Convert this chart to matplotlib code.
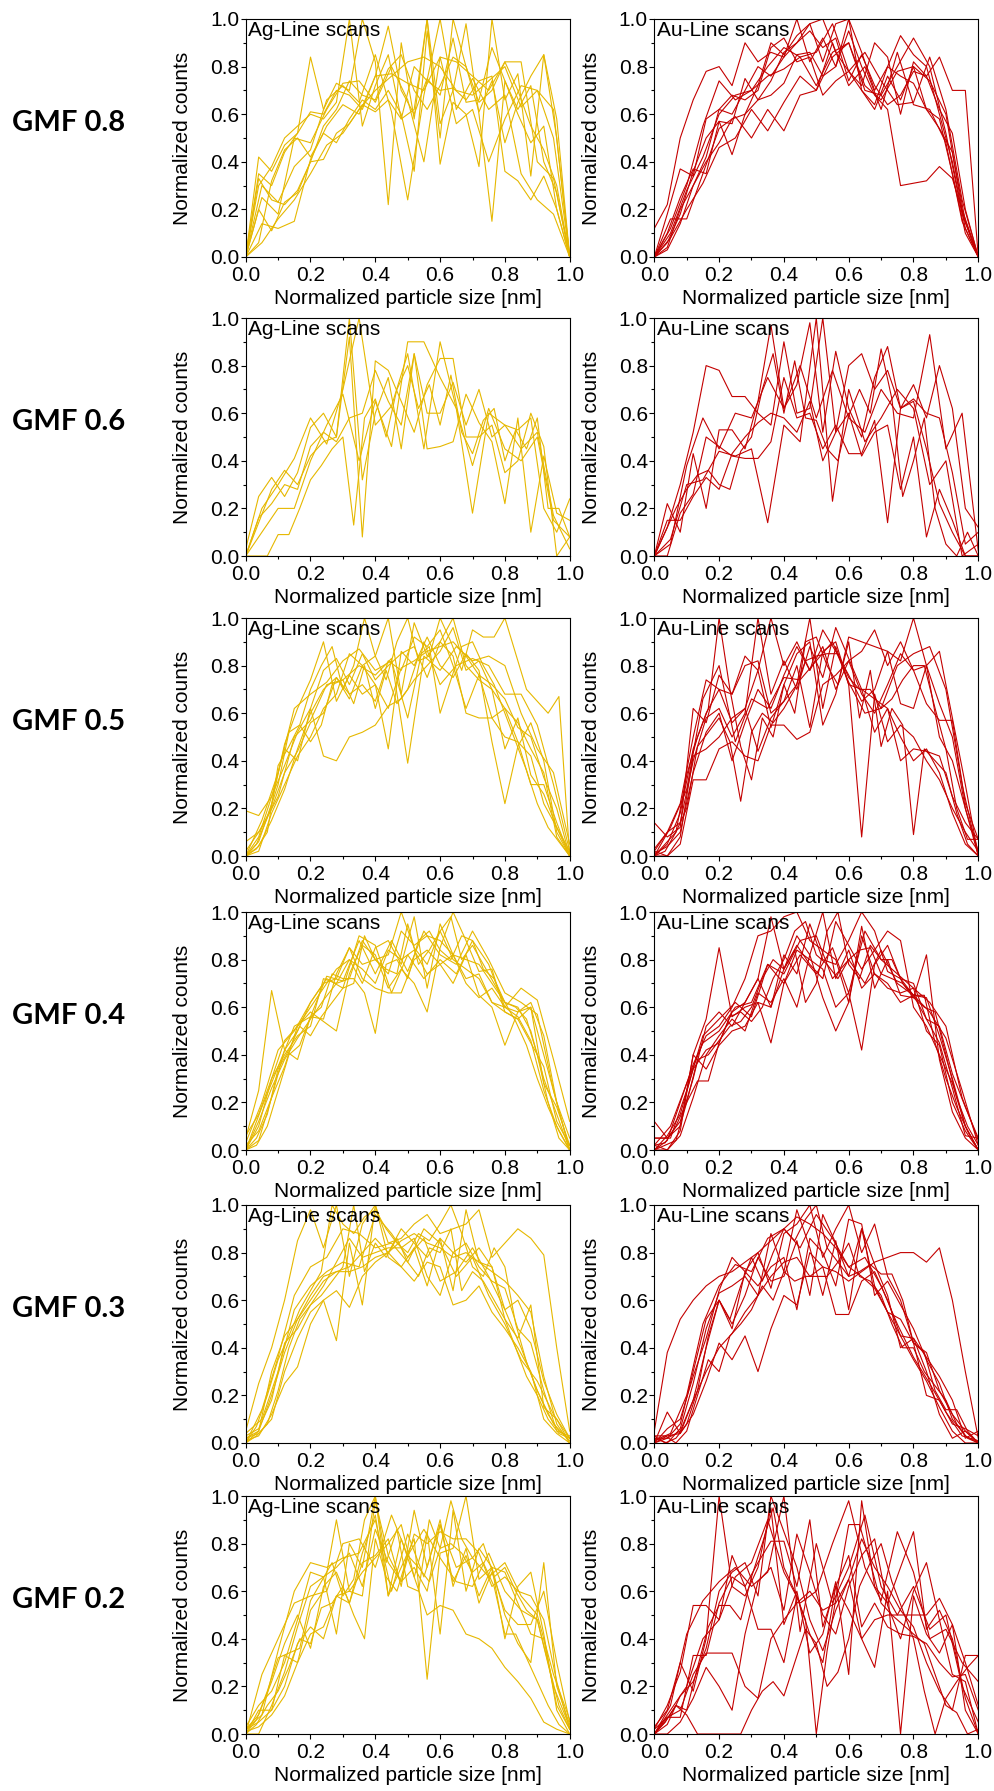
import numpy as np
import matplotlib
matplotlib.use("Agg")
import matplotlib.pyplot as plt
from matplotlib.ticker import MultipleLocator, FormatStrFormatter

plt.rcParams['font.family'] = ['Liberation Sans', 'DejaVu Sans']

# GMF values, one row each
gmf_labels = ["GMF 0.8", "GMF 0.6", "GMF 0.5", "GMF 0.4", "GMF 0.3", "GMF 0.2"]

# Normalized line scans (y values, evenly spaced over 0..1)
ag_08 = [
    [0, 0.33, 0.24, 0.22, 0.28, 0.40, 0.55, 0.62, 0.74, 0.68, 0.66, 0.79, 0.85, 0.70, 0.62, 0.72, 0.84, 0.80, 0.65, 0.70, 0.82, 0.70, 0.55, 0.45, 0.30, 0],
    [0, 0.42, 0.36, 0.47, 0.52, 0.84, 0.62, 0.73, 0.70, 1.00, 0.82, 0.22, 0.90, 0.58, 1.00, 0.56, 0.70, 0.98, 0.60, 0.15, 0.74, 0.60, 0.48, 0.55, 0.20, 0],
    [0, 0.14, 0.12, 0.15, 0.41, 0.55, 0.64, 0.60, 0.76, 0.77, 0.73, 0.70, 0.84, 0.82, 0.76, 0.70, 0.82, 0.82, 0.40, 0.33, 0],
    [0, 0.30, 0.23, 0.38, 0.45, 0.66, 0.72, 0.65, 0.85, 0.61, 0.24, 0.68, 1.00, 0.62, 0.75, 0.62, 0.68, 0.35, 0.24, 0.18, 0],
    [0, 0.06, 0.32, 0.45, 0.50, 0.42, 0.52, 0.48, 0.58, 0.66, 0.62, 0.70, 0.60, 0.36, 0.95, 0.50, 1.00, 0.80, 0.61, 0.74, 0.48, 0.65, 0.76, 0.85, 0.50, 0],
    [0, 0.20, 0.11, 0.23, 0.27, 0.40, 0.41, 0.52, 0.56, 0.64, 0.61, 0.66, 0.58, 0.80, 0.74, 0.70, 0.71, 0.66, 0.74, 0.76, 0.36, 0.32, 0.24, 0.34, 0.20, 0],
    [0, 0.25, 0.18, 0.50, 0.48, 0.62, 0.73, 0.74, 0.65, 0.80, 0.66, 0.40, 0.84, 0.56, 0.62, 0.40, 0.58, 0.72, 0.70, 0.62, 0],
    [0, 0.30, 0.38, 0.50, 0.55, 0.60, 0.58, 0.65, 1.00, 0.55, 0.72, 0.85, 0.58, 0.62, 1.00, 0.39, 0.65, 0.60, 0.38, 1.00, 0.66, 0.77, 0.34, 0.85, 0.58, 0],
    [0, 0.06, 0.16, 0.24, 0.35, 0.47, 0.52, 0.62, 0.70, 0.76, 0.82, 0.84, 0.80, 0.70, 0.68, 0.74, 0.80, 0.63, 0.70, 0.50, 0],
    [0, 0.35, 0.30, 0.44, 0.52, 0.61, 0.60, 0.70, 0.68, 0.62, 0.76, 0.97, 0.70, 0.60, 0.75, 0.68, 0.92, 0.65, 0.66, 0.88, 0.74, 0.62, 0.72, 0.40, 0.27, 0],
]
au_08 = [
    [0.12, 0.22, 0.50, 0.66, 0.78, 0.80, 0.72, 0.90, 0.82, 0.86, 0.84, 0.90, 0.95, 0.88, 0.92, 0.74, 0.85, 0.72, 0.64, 0.68, 0.78, 0.76, 0.84, 0.70, 0.70, 0],
    [0, 0.10, 0.25, 0.37, 0.35, 0.57, 0.56, 0.75, 0.66, 0.68, 0.73, 0.85, 0.86, 0.76, 0.80, 0.95, 0.80, 0.68, 0.62, 0.30, 0.31, 0.32, 0.38, 0.33, 0.15, 0],
    [0, 0.16, 0.16, 0.35, 0.54, 0.59, 0.50, 0.62, 0.53, 0.68, 0.70, 0.84, 0.90, 0.72, 0.66, 0.78, 0.80, 0.74, 0.60, 0.20, 0],
    [0, 0.04, 0.20, 0.30, 0.40, 0.48, 0.58, 0.60, 0.66, 0.74, 0.86, 0.90, 0.98, 1.00, 0.86, 0.78, 0.70, 0.62, 0.76, 0.66, 0.80, 0.62, 0.58, 0.35, 0.10, 0],
    [0, 0.10, 0.28, 0.42, 0.60, 0.68, 0.70, 0.76, 0.79, 0.84, 0.86, 0.98, 0.78, 0.86, 0.74, 0.64, 0.65, 0.84, 0.62, 0.24, 0],
    [0, 0.06, 0.18, 0.36, 0.50, 0.57, 0.43, 0.60, 0.72, 0.90, 0.85, 0.93, 0.98, 0.82, 0.98, 1.00, 0.86, 0.70, 0.80, 0.76, 0.73, 0.62, 0.54, 0.44, 0.15, 0],
    [0, 0.12, 0.30, 0.55, 0.74, 0.66, 0.70, 0.80, 0.88, 0.84, 0.72, 0.86, 0.90, 0.70, 0.68, 0.80, 0.92, 0.80, 0.52, 0.18, 0],
    [0, 0.03, 0.14, 0.30, 0.42, 0.62, 0.68, 0.66, 0.70, 0.88, 0.92, 0.82, 0.84, 0.68, 0.74, 0.78, 0.72, 0.90, 0.84, 0.60, 0.82, 0.76, 0.62, 0.52, 0.20, 0],
    [0, 0.08, 0.20, 0.31, 0.46, 0.50, 0.62, 0.53, 0.65, 0.76, 0.70, 0.90, 0.72, 0.80, 0.62, 0.86, 0.64, 0.62, 0.48, 0.15, 0],
    [0, 0.18, 0.37, 0.34, 0.58, 0.62, 0.60, 0.70, 0.80, 0.76, 0.84, 1.00, 0.82, 0.92, 0.80, 1.00, 0.70, 0.64, 0.80, 0.93, 0.85, 0.80, 0.60, 0.40, 0.12, 0],
]
ag_06 = [
    [0, 0, 0, 0.09, 0.09, 0.20, 0.32, 0.38, 0.45, 0.50, 0.13, 0.58, 0.66, 0.50, 0.70, 0.80, 0.62, 0.72, 0.55, 0.76, 0.52, 0.43, 0.57, 0.62, 0.40, 0.53, 0.45, 0.58, 0.20, 0.20, 0.08],
    [0.03, 0.25, 0.33, 0.25, 0.35, 0.54, 0.60, 0.50, 1.00, 0.32, 0.60, 0.75, 0.45, 0.85, 0.60, 0.60, 0.73, 0.55, 0.70, 0.50, 0.55, 0.53, 0.58, 0.20, 0.10, 0.24],
    [0, 0.20, 0.30, 0.41, 0.58, 0.47, 0.70, 1.00, 0.55, 0.63, 0.85, 0.45, 0.90, 0.62, 0.18, 0.60, 0.55, 0.45, 0.52, 0.17, 0.03],
    [0, 0.14, 0.28, 0.36, 0.30, 0.42, 0.48, 0.50, 0.92, 0.08, 0.82, 0.78, 0.65, 0.52, 0.72, 0.83, 0.83, 0.50, 0.50, 0.55, 0.35, 0.40, 0.60, 0.46, 0.0, 0.08],
    [0, 0.10, 0.20, 0.20, 0.40, 0.55, 0.68, 0.40, 0.65, 0.46, 0.90, 0.90, 0.75, 0.62, 0.38, 0.62, 0.45, 0.40, 0.50, 0.15, 0.08],
    [0, 0.16, 0.22, 0.30, 0.28, 0.46, 0.52, 0.48, 0.58, 0.60, 0.78, 0.65, 0.55, 0.85, 0.45, 0.46, 0.48, 0.68, 0.56, 0.48, 0.22, 0.58, 0.10, 0.42, 0.18, 0.15],
]
au_06 = [
    [0, 0.12, 0.30, 0.52, 0.80, 0.78, 0.67, 0.67, 0.60, 0.55, 0.90, 0.60, 0.62, 1.00, 0.52, 0.80, 0.85, 0.70, 0.78, 0.62, 0.72, 0.58, 0.80, 0.62, 0.20, 0.12],
    [0, 0.22, 0.10, 0.43, 0.20, 0.53, 0.53, 0.45, 0.65, 0.97, 0.62, 0.72, 0.98, 0.52, 0.86, 0.62, 0.50, 0.75, 0.88, 0.62, 0.66, 0.60, 0.58, 0.35, 0.05, 0.10],
    [0, 0.07, 0.30, 0.32, 0.44, 0.42, 0.45, 0.14, 0.55, 0.48, 1.00, 0.23, 0.70, 0.48, 0.58, 0.70, 0.62, 0.30, 0.40, 0.00, 0.05],
    [0, 0.15, 0.15, 0.25, 0.33, 0.28, 0.43, 0.50, 0.56, 0.60, 0.58, 0.52, 0.65, 0.40, 0.52, 0.60, 0.42, 0.52, 0.55, 0.28, 0.50, 0.08, 0.28, 0.15, 0.00, 0.00],
    [0, 0.0, 0.18, 0.26, 0.50, 0.46, 0.42, 0.41, 0.41, 0.48, 0.75, 0.58, 0.60, 0.45, 0.55, 0.43, 0.43, 0.57, 0.14, 0.62, 0.65, 0.45, 0.22, 0.10, 0.0, 0.0],
    [0, 0.10, 0.20, 0.28, 0.34, 0.36, 0.30, 0.28, 0.44, 0.50, 0.70, 0.85, 0.60, 0.82, 0.58, 0.57, 0.45, 0.40, 0.59, 0.70, 0.60, 0.87, 0.66, 0.25, 0.40, 0.58, 0.20, 0.05, 0.0, 0.10, 0.0],
    [0, 0.05, 0.38, 0.58, 0.45, 0.60, 0.58, 0.75, 0.62, 0.80, 0.58, 0.78, 0.58, 0.52, 0.70, 0.60, 0.58, 0.93, 0.45, 0.60, 0.02],
]
ag_05 = [
    [0.19, 0.17, 0.25, 0.38, 0.52, 0.62, 0.78, 0.83, 0.72, 0.85, 0.74, 0.80, 0.85, 0.88, 0.75, 0.90, 0.84, 0.60, 0.58, 0.58, 0.50, 0.48, 0.42, 0.22, 0.12, 0.0],
    [0.06, 0.10, 0.20, 0.35, 0.44, 0.56, 0.60, 0.75, 0.68, 0.72, 0.65, 0.82, 0.78, 0.92, 0.88, 0.95, 0.80, 0.62, 0.76, 0.58, 0.62, 0.48, 0.30, 0.30, 0.14, 0.0],
    [0, 0.05, 0.16, 0.30, 0.52, 0.55, 0.48, 0.55, 0.72, 0.74, 0.64, 0.80, 0.62, 0.78, 0.64, 0.70, 0.84, 0.88, 0.60, 0.74, 0.88, 0.90, 0.80, 0.72, 0.60, 0.48, 0.36, 0.22, 0.12, 0.06, 0.0],
    [0, 0.08, 0.25, 0.45, 0.40, 0.62, 0.42, 0.40, 0.50, 0.52, 0.55, 0.63, 0.66, 0.74, 0.80, 0.86, 0.96, 0.78, 0.82, 0.70, 0.45, 0.58, 0.34, 0.26, 0.12, 0.02],
    [0, 0.06, 0.22, 0.47, 0.62, 0.74, 0.90, 0.65, 0.76, 0.68, 0.72, 0.62, 0.79, 0.82, 0.86, 0.88, 0.90, 0.84, 0.76, 0.72, 0.66, 0.54, 0.50, 0.33, 0.20, 0.0],
    [0.02, 0.12, 0.25, 0.50, 0.57, 0.72, 0.74, 0.80, 0.76, 0.83, 0.39, 0.84, 0.78, 0.88, 0.82, 0.84, 0.80, 0.60, 0.45, 0.35, 0.05],
    [0, 0.04, 0.15, 0.28, 0.45, 0.60, 0.70, 0.75, 0.66, 0.80, 0.72, 0.45, 0.86, 0.80, 0.92, 0.80, 0.75, 0.85, 0.78, 0.48, 0.22, 0.46, 0.56, 0.40, 0.10, 0.0],
    [0, 0.03, 0.10, 0.38, 0.46, 0.55, 0.70, 0.80, 0.88, 0.70, 0.80, 1.00, 0.84, 0.74, 0.90, 1.00, 0.82, 0.84, 1.00, 0.90, 0.78, 0.95, 0.92, 0.92, 1.00, 0.85, 0.70, 0.65, 0.60, 0.67, 0.0],
    [0, 0.15, 0.35, 0.62, 0.68, 0.73, 0.82, 0.87, 0.78, 0.82, 0.58, 0.90, 0.72, 0.80, 0.83, 0.80, 0.68, 0.68, 0.55, 0.30, 0.02],
    [0, 0.02, 0.18, 0.30, 0.42, 0.50, 0.62, 0.68, 0.85, 0.80, 0.84, 1.00, 0.68, 0.98, 0.84, 0.90, 1.00, 0.80, 0.74, 0.70, 0.62, 0.56, 0.45, 0.35, 0.08, 0.0],
]
au_05 = [
    [0.14, 0.08, 0.12, 0.62, 0.56, 0.76, 0.68, 0.84, 0.78, 1.00, 0.80, 0.90, 0.78, 0.88, 0.70, 0.82, 0.68, 0.60, 0.72, 0.85, 0.78, 0.80, 0.64, 0.50, 0.20, 0.0],
    [0.02, 0.0, 0.05, 0.32, 0.32, 0.45, 0.48, 0.42, 0.40, 0.55, 0.55, 0.49, 0.52, 0.72, 0.76, 0.82, 0.86, 0.95, 0.80, 0.90, 0.78, 0.64, 0.57, 0.57, 0.22, 0.07],
    [0, 0.05, 0.10, 0.20, 0.46, 0.52, 0.58, 0.48, 0.23, 0.52, 0.60, 0.56, 0.62, 0.70, 0.82, 0.84, 0.85, 0.85, 0.75, 0.70, 0.70, 0.62, 0.66, 0.74, 0.80, 0.80, 0.62, 0.45, 0.20, 0.07, 0.07],
    [0.03, 0.10, 0.14, 0.40, 0.58, 0.62, 0.50, 0.60, 1.00, 0.68, 0.82, 0.70, 0.88, 0.75, 0.96, 0.83, 0.70, 0.66, 0.62, 0.50, 0.40, 0.45, 0.35, 0.18, 0.05, 0.0],
    [0, 0.05, 0.18, 0.45, 0.60, 0.70, 0.68, 0.80, 0.82, 0.60, 0.65, 0.72, 1.00, 0.62, 0.88, 0.72, 0.08, 0.68, 0.48, 0.55, 0.50, 0.40, 0.32, 0.20, 0.10, 0.02],
    [0, 0.02, 0.10, 0.34, 0.50, 0.62, 1.00, 0.70, 0.46, 0.32, 0.58, 0.50, 0.72, 0.60, 0.90, 0.92, 0.80, 0.72, 0.90, 0.58, 0.78, 0.46, 0.62, 0.55, 0.09, 0.45, 0.40, 0.35, 0.18, 0.05, 0.0],
    [0.02, 0.10, 0.22, 0.50, 0.74, 0.70, 0.56, 0.62, 0.78, 0.54, 0.72, 0.85, 0.90, 0.55, 0.68, 0.92, 0.90, 0.88, 0.86, 0.82, 1.00, 0.80, 0.86, 0.58, 0.30, 0.0],
    [0, 0.0, 0.08, 0.42, 0.45, 0.50, 0.58, 0.62, 0.44, 0.58, 0.65, 0.80, 0.54, 0.86, 0.90, 0.72, 0.70, 0.52, 0.62, 0.40, 0.45, 0.44, 0.42, 0.25, 0.14, 0.07],
    [0, 0.12, 0.28, 0.66, 0.80, 0.48, 0.66, 0.62, 0.75, 0.74, 0.82, 0.90, 0.73, 0.60, 0.62, 0.80, 0.85, 0.88, 0.70, 0.30, 0.0],
    [0.01, 0.04, 0.10, 0.35, 0.52, 0.60, 0.40, 0.56, 0.70, 0.62, 0.76, 0.88, 0.78, 0.95, 0.86, 0.76, 0.65, 0.70, 0.86, 0.64, 0.62, 0.80, 0.50, 0.40, 0.20, 0.02],
]
ag_04 = [
    [0.05, 0.25, 0.67, 0.42, 0.50, 0.62, 0.70, 0.72, 0.85, 0.78, 0.80, 0.74, 0.92, 0.86, 0.90, 0.88, 0.82, 0.80, 0.78, 0.70, 0.62, 0.60, 0.50, 0.30, 0.15, 0.0],
    [0, 0.12, 0.26, 0.38, 0.47, 0.55, 0.63, 0.70, 0.72, 0.88, 0.80, 0.82, 1.00, 0.85, 0.78, 0.92, 0.80, 0.76, 0.72, 0.62, 0.60, 0.56, 0.46, 0.25, 0.10, 0.0],
    [0, 0.02, 0.10, 0.25, 0.40, 0.44, 0.56, 0.60, 0.74, 0.72, 0.72, 0.66, 0.49, 0.78, 0.80, 0.72, 0.88, 0.92, 0.84, 0.80, 0.90, 0.88, 0.76, 0.72, 0.62, 0.54, 0.44, 0.30, 0.18, 0.08, 0.0],
    [0.06, 0.15, 0.30, 0.46, 0.52, 0.60, 0.68, 0.76, 0.80, 0.70, 0.85, 0.88, 0.78, 0.98, 0.68, 0.95, 0.82, 0.72, 0.74, 0.62, 0.58, 0.55, 0.45, 0.35, 0.12, 0.02],
    [0, 0.04, 0.22, 0.42, 0.38, 0.56, 0.55, 0.74, 0.85, 0.72, 0.68, 0.66, 0.66, 0.80, 0.84, 0.78, 0.70, 0.82, 0.65, 0.60, 0.44, 0.58, 0.60, 0.28, 0.18, 0.02],
    [0, 0.18, 0.35, 0.52, 0.56, 0.73, 0.71, 0.88, 0.74, 0.88, 0.75, 0.92, 0.82, 0.78, 0.92, 0.80, 0.66, 0.62, 0.57, 0.25, 0.0],
    [0.02, 0.08, 0.22, 0.35, 0.52, 0.58, 0.54, 0.50, 0.74, 0.86, 0.82, 0.68, 0.76, 0.70, 0.58, 0.85, 1.00, 0.88, 0.75, 0.76, 0.58, 0.55, 0.60, 0.40, 0.20, 0.0],
    [0, 0.05, 0.15, 0.34, 0.42, 0.52, 0.48, 0.56, 0.62, 0.68, 0.70, 0.90, 0.80, 0.76, 0.74, 0.95, 0.78, 0.84, 0.92, 0.98, 0.80, 0.86, 0.78, 0.70, 0.62, 0.60, 0.55, 0.40, 0.20, 0.05, 0.0],
    [0, 0.10, 0.30, 0.40, 0.48, 0.52, 0.72, 0.70, 0.80, 0.76, 0.70, 0.84, 0.80, 0.84, 0.74, 0.78, 0.82, 0.70, 0.64, 0.68, 0.60, 0.58, 0.62, 0.48, 0.20, 0.05],
    [0.03, 0.20, 0.42, 0.50, 0.62, 0.72, 0.68, 0.90, 0.86, 0.66, 0.82, 0.72, 0.80, 0.74, 0.88, 0.78, 0.60, 0.68, 0.63, 0.38, 0.12],
]
au_04 = [
    [0.12, 0.05, 0.10, 0.40, 0.55, 0.85, 0.56, 0.60, 0.62, 0.60, 0.76, 0.90, 0.82, 1.00, 0.72, 0.84, 0.68, 0.74, 0.70, 0.62, 0.65, 0.64, 0.48, 0.30, 0.10, 0.0],
    [0.05, 0.05, 0.12, 0.30, 0.52, 0.58, 0.52, 0.62, 0.72, 0.60, 0.82, 0.74, 0.95, 0.80, 0.78, 0.88, 1.00, 0.92, 0.75, 0.72, 0.70, 0.55, 0.45, 0.26, 0.06, 0.05],
    [0, 0.02, 0.04, 0.20, 0.29, 0.29, 0.45, 0.56, 0.58, 0.54, 0.60, 0.72, 0.80, 0.92, 0.96, 0.82, 0.78, 0.72, 0.80, 0.84, 0.85, 0.74, 0.72, 0.70, 0.65, 0.65, 0.45, 0.30, 0.18, 0.08, 0.0],
    [0.02, 0.0, 0.08, 0.40, 0.34, 0.44, 0.50, 0.52, 0.62, 0.45, 0.70, 0.84, 0.80, 0.76, 0.60, 0.66, 0.42, 0.78, 0.86, 0.72, 0.65, 0.55, 0.52, 0.32, 0.18, 0.05],
    [0, 0.04, 0.20, 0.36, 0.48, 0.52, 0.60, 0.72, 0.90, 0.92, 0.98, 1.00, 0.88, 0.84, 0.80, 0.62, 0.90, 0.74, 0.68, 0.66, 0.68, 0.50, 0.44, 0.20, 0.08, 0.0],
    [0.05, 0.05, 0.25, 0.48, 0.55, 0.62, 0.56, 0.78, 0.70, 0.82, 0.74, 0.85, 0.66, 0.92, 0.80, 0.74, 0.68, 0.62, 0.52, 0.22, 0.04],
    [0, 0.0, 0.06, 0.22, 0.40, 0.48, 0.55, 0.50, 0.66, 0.62, 0.72, 0.60, 0.82, 0.64, 0.50, 0.62, 0.94, 0.68, 0.80, 0.65, 0.64, 0.82, 0.38, 0.16, 0.05, 0.0],
    [0.02, 0.03, 0.10, 0.20, 0.38, 0.40, 0.46, 0.52, 0.54, 0.60, 0.72, 0.80, 0.76, 0.84, 0.62, 0.70, 0.92, 1.00, 0.78, 0.72, 0.86, 0.80, 0.80, 0.70, 0.64, 0.60, 0.58, 0.40, 0.22, 0.10, 0.02],
    [0, 0.06, 0.15, 0.34, 0.42, 0.45, 0.58, 0.62, 0.72, 0.98, 0.76, 0.86, 0.78, 0.72, 0.96, 0.86, 0.76, 0.84, 0.92, 0.88, 0.60, 0.52, 0.40, 0.28, 0.10, 0.0],
    [0.02, 0.10, 0.28, 0.45, 0.50, 0.60, 0.62, 0.78, 0.74, 0.88, 0.90, 0.72, 0.80, 0.70, 0.84, 0.70, 0.65, 0.58, 0.47, 0.25, 0.02],
]
ag_03 = [
    [0.05, 0.25, 0.40, 0.60, 0.85, 0.98, 0.82, 1.00, 0.70, 0.92, 1.00, 0.84, 0.86, 0.92, 0.96, 0.88, 0.90, 0.92, 0.98, 0.78, 0.84, 0.90, 0.86, 0.79, 0.40, 0.05],
    [0.02, 0.05, 0.30, 0.45, 0.52, 0.60, 0.68, 0.72, 0.72, 0.74, 0.78, 0.80, 0.85, 0.88, 0.84, 0.82, 0.78, 0.80, 0.76, 0.72, 0.68, 0.62, 0.55, 0.28, 0.08, 0.0],
    [0, 0.03, 0.08, 0.22, 0.40, 0.52, 0.58, 0.62, 0.68, 0.74, 1.00, 0.72, 0.84, 0.78, 0.86, 0.76, 0.70, 0.82, 0.80, 0.90, 0.64, 0.72, 0.68, 0.60, 0.52, 0.40, 0.28, 0.20, 0.10, 0.04, 0.02],
    [0.02, 0.04, 0.10, 0.30, 0.44, 0.55, 0.60, 0.43, 0.84, 0.58, 1.00, 0.78, 0.74, 0.82, 0.66, 0.86, 0.64, 0.98, 0.76, 0.74, 0.52, 0.44, 0.58, 0.15, 0.10, 0.0],
    [0, 0.05, 0.20, 0.38, 0.52, 0.62, 0.70, 0.72, 0.74, 0.80, 0.86, 0.80, 0.90, 0.84, 0.78, 0.86, 0.80, 0.84, 0.74, 0.68, 0.65, 0.48, 0.42, 0.22, 0.05, 0.03],
    [0.04, 0.10, 0.30, 0.56, 0.66, 0.72, 0.76, 0.74, 0.96, 0.88, 0.78, 0.86, 0.68, 0.72, 0.82, 0.70, 0.56, 0.40, 0.22, 0.08, 0.01],
    [0.01, 0.03, 0.12, 0.25, 0.32, 0.50, 0.60, 0.64, 0.57, 0.70, 0.76, 0.80, 0.74, 0.68, 0.76, 0.74, 0.58, 0.60, 0.66, 0.55, 0.48, 0.40, 0.30, 0.10, 0.04, 0.0],
    [0, 0.07, 0.20, 0.35, 0.45, 0.56, 0.64, 0.72, 1.00, 0.92, 0.88, 0.95, 0.98, 0.90, 0.84, 0.80, 0.88, 0.85, 0.92, 1.00, 0.88, 0.74, 0.70, 0.82, 0.74, 0.50, 0.34, 0.22, 0.12, 0.05, 0.02],
    [0.03, 0.06, 0.18, 0.42, 0.48, 0.58, 0.66, 0.76, 0.86, 0.78, 0.80, 0.82, 0.82, 0.86, 0.70, 0.62, 0.80, 0.76, 0.82, 0.74, 0.56, 0.60, 0.48, 0.26, 0.12, 0.02],
    [0, 0.14, 0.36, 0.62, 0.74, 0.78, 0.90, 0.88, 0.82, 0.84, 0.76, 0.90, 0.84, 0.70, 0.78, 0.62, 0.50, 0.35, 0.26, 0.12, 0.02],
]
au_03 = [
    [0.05, 0.38, 0.52, 0.60, 0.66, 0.70, 0.72, 0.76, 0.80, 0.85, 0.90, 0.95, 0.92, 0.88, 0.82, 0.74, 0.70, 0.65, 0.55, 0.45, 0.35, 0.26, 0.15, 0.05, 0.0, 0.0],
    [0.02, 0.02, 0.08, 0.30, 0.52, 0.60, 0.48, 0.72, 0.80, 0.65, 0.88, 0.92, 1.00, 0.78, 0.90, 1.00, 0.80, 0.92, 0.70, 0.60, 0.42, 0.38, 0.22, 0.12, 0.05, 0.0],
    [0.03, 0.03, 0.0, 0.05, 0.20, 0.35, 0.30, 0.45, 0.50, 0.56, 0.66, 0.60, 0.72, 0.68, 0.70, 0.70, 0.70, 0.76, 0.70, 0.72, 0.75, 0.71, 0.71, 0.60, 0.42, 0.38, 0.22, 0.14, 0.14, 0.05, 0.0],
    [0, 0.13, 0.04, 0.18, 0.40, 0.60, 0.50, 0.62, 0.78, 0.68, 0.70, 0.85, 0.62, 0.96, 0.84, 0.70, 0.90, 0.75, 0.62, 0.40, 0.44, 0.30, 0.12, 0.02, 0.05, 0.0],
    [0.02, 0.0, 0.06, 0.25, 0.48, 0.63, 0.66, 0.70, 0.62, 0.88, 0.72, 0.98, 0.82, 0.62, 0.85, 0.56, 0.90, 0.66, 0.55, 0.52, 0.42, 0.20, 0.18, 0.08, 0.06, 0.03],
    [0.01, 0.04, 0.20, 0.50, 0.66, 0.75, 0.72, 0.86, 0.90, 0.82, 0.96, 0.86, 0.74, 0.78, 0.66, 0.50, 0.36, 0.25, 0.13, 0.03, 0.01],
    [0, 0.03, 0.04, 0.12, 0.26, 0.42, 0.35, 0.45, 0.30, 0.48, 0.62, 0.58, 0.80, 0.74, 0.54, 0.54, 0.68, 0.72, 0.60, 0.45, 0.44, 0.36, 0.28, 0.18, 0.02, 0.05],
    [0.03, 0.0, 0.02, 0.08, 0.22, 0.45, 0.60, 0.52, 0.66, 0.78, 0.68, 0.80, 0.90, 0.85, 0.94, 1.00, 0.82, 0.76, 0.84, 0.70, 0.68, 0.62, 0.50, 0.40, 0.40, 0.30, 0.24, 0.18, 0.08, 0.02, 0.0],
    [0, 0.06, 0.10, 0.28, 0.44, 0.64, 0.78, 0.72, 0.66, 0.74, 0.78, 0.56, 0.86, 0.80, 0.66, 0.94, 0.92, 0.62, 0.68, 0.58, 0.48, 0.35, 0.25, 0.10, 0.03, 0.0],
    [0.0, 0.02, 0.05, 0.18, 0.30, 0.40, 0.46, 0.55, 0.62, 0.70, 0.76, 0.78, 0.70, 0.74, 0.72, 0.68, 0.72, 0.76, 0.78, 0.80, 0.80, 0.76, 0.82, 0.60, 0.30, 0.02],
]
ag_02 = [
    [0, 0.10, 0.10, 0.33, 0.30, 0.52, 0.60, 0.90, 0.60, 0.58, 0.98, 0.75, 0.64, 0.70, 0.60, 0.88, 0.64, 0.75, 0.58, 0.70, 0.40, 0.62, 0.68, 0.42, 0.10, 0.0],
    [0.02, 0.08, 0.22, 0.38, 0.50, 0.36, 0.62, 0.68, 0.55, 0.76, 0.92, 0.58, 0.82, 0.66, 0.85, 0.42, 0.94, 0.60, 0.78, 0.70, 0.68, 0.55, 0.42, 0.40, 0.12, 0.02],
    [0, 0.04, 0.12, 0.18, 0.28, 0.40, 0.38, 0.53, 0.55, 0.62, 0.50, 0.40, 0.82, 0.66, 0.60, 0.75, 0.70, 0.64, 0.78, 0.80, 0.76, 0.68, 0.72, 0.62, 0.42, 0.42, 0.32, 0.22, 0.12, 0.04, 0.0],
    [0, 0.0, 0.12, 0.26, 0.45, 0.62, 0.66, 0.42, 0.80, 0.70, 1.00, 0.58, 0.70, 0.82, 0.23, 0.76, 0.78, 1.00, 0.65, 0.70, 0.50, 0.38, 0.30, 0.72, 0.20, 0.04],
    [0.03, 0.12, 0.18, 0.30, 0.48, 0.68, 0.66, 0.70, 0.76, 0.62, 0.86, 0.72, 0.64, 0.84, 0.80, 0.85, 0.82, 0.82, 0.76, 0.62, 0.66, 0.60, 0.58, 0.48, 0.22, 0.02],
    [0, 0.25, 0.40, 0.55, 0.58, 0.60, 0.80, 0.82, 0.70, 0.92, 0.75, 0.86, 0.74, 0.64, 0.62, 0.76, 0.60, 0.52, 0.48, 0.20, 0.03],
    [0.02, 0.05, 0.10, 0.20, 0.38, 0.45, 0.40, 0.58, 0.55, 0.72, 0.75, 0.82, 0.62, 0.94, 0.70, 0.90, 0.62, 0.78, 0.55, 0.68, 0.52, 0.46, 0.46, 0.60, 0.30, 0.05],
    [0, 0.06, 0.18, 0.32, 0.34, 0.36, 0.56, 0.64, 0.72, 0.58, 0.65, 0.90, 1.00, 0.72, 0.86, 0.62, 0.60, 0.90, 0.78, 0.98, 0.82, 0.74, 0.80, 0.66, 0.70, 0.60, 0.52, 0.48, 0.30, 0.12, 0.02],
    [0.01, 0.03, 0.08, 0.16, 0.30, 0.42, 0.45, 0.58, 0.60, 0.68, 0.74, 0.80, 0.88, 0.66, 0.50, 0.54, 0.52, 0.42, 0.40, 0.36, 0.28, 0.22, 0.15, 0.05, 0.02, 0.0],
    [0.02, 0.08, 0.35, 0.60, 0.72, 0.70, 0.74, 0.76, 0.90, 0.60, 0.84, 0.66, 0.88, 0.70, 0.74, 0.66, 0.72, 0.58, 0.50, 0.25, 0.06],
]
au_02 = [
    [0, 0.07, 0.07, 0.33, 0.33, 0.55, 0.66, 0.62, 0.72, 0.81, 0.81, 0.62, 0.90, 0.45, 0.62, 0.52, 0.40, 0.48, 0.50, 0.50, 0.50, 0.50, 0.57, 0.46, 0.30, 0.12],
    [0, 0.05, 0.12, 0.10, 0.28, 0.45, 0.54, 0.54, 0.48, 0.66, 0.80, 0.95, 0.70, 0.60, 0.48, 0.00, 0.35, 0.62, 0.88, 0.88, 0.72, 0.55, 0.50, 0.46, 0.42, 0.38, 0.25, 0.12, 0.09, 0.0, 0.02],
    [0.03, 0.10, 0.30, 0.18, 0.40, 1.00, 0.62, 0.58, 0.70, 0.95, 0.46, 0.60, 0.34, 0.42, 0.64, 0.25, 0.98, 0.62, 0.55, 0.70, 0.85, 0.44, 0.52, 0.40, 0.15, 0.0],
    [0, 0.0, 0.05, 0.15, 0.28, 0.20, 0.10, 0.42, 0.64, 0.70, 0.52, 0.84, 0.68, 0.50, 0.42, 0.62, 0.75, 0.82, 0.54, 0.40, 0.60, 0.72, 0.48, 0.25, 0.22, 0.0],
    [0, 0.12, 0.42, 0.56, 0.64, 0.70, 0.62, 0.68, 1.00, 0.43, 0.80, 0.55, 0.70, 0.92, 0.62, 0.50, 0.62, 0.44, 0.50, 0.20, 0.05],
    [0, 0.05, 0.12, 0.08, 0.0, 0.0, 0.0, 0.0, 0.0, 0.10, 0.18, 0.22, 0.16, 0.30, 0.44, 0.38, 0.20, 0.26, 0.40, 0.62, 0.72, 0.80, 0.64, 0.52, 0.40, 0.18, 0.0, 0.15, 0.22, 0.28, 0.33],
    [0.02, 0.12, 0.26, 0.54, 0.54, 0.48, 0.75, 0.62, 0.44, 0.44, 0.30, 0.58, 0.42, 0.30, 0.62, 0.75, 0.45, 0.55, 0.45, 0.42, 0.41, 0.38, 0.30, 0.24, 0.25, 0.10],
    [0, 0.04, 0.16, 0.22, 0.36, 0.60, 0.68, 0.72, 0.58, 1.00, 0.85, 0.70, 0.48, 0.35, 0.52, 0.65, 0.40, 0.28, 0.60, 0.00, 0.58, 0.42, 0.34, 0.46, 0.10, 0.0],
    [0, 0.10, 0.20, 0.40, 0.48, 0.66, 0.72, 0.90, 0.68, 0.55, 0.60, 0.80, 0.98, 0.70, 0.56, 0.85, 0.68, 0.40, 0.44, 0.30, 0.22],
    [0.02, 0.07, 0.10, 0.25, 0.34, 0.34, 0.34, 0.20, 0.15, 0.40, 0.48, 0.55, 0.60, 0.52, 0.55, 0.65, 0.82, 0.70, 0.62, 0.52, 0.45, 0.30, 0.18, 0.10, 0.33, 0.33],
]

ag_rows = [ag_08, ag_06, ag_05, ag_04, ag_03, ag_02]
au_rows = [au_08, au_06, au_05, au_04, au_03, au_02]

ag_color = "#E6B800"
au_color = "#C40000"

W, H = 995, 1791
fig = plt.figure(figsize=(W / 100, H / 100), dpi=100)

# axes boxes in pixels (top of each row, common height)
row_top = [19, 318, 618, 912, 1205, 1496]
row_h = 238
col_left = [245.7, 654.3]
col_w = 324
fs = 15


def style_axes(ax):
    ax.set_xlim(0, 1)
    ax.set_ylim(0, 1)
    ax.xaxis.set_major_locator(MultipleLocator(0.2))
    ax.xaxis.set_minor_locator(MultipleLocator(0.1))
    ax.yaxis.set_major_locator(MultipleLocator(0.2))
    ax.yaxis.set_minor_locator(MultipleLocator(0.1))
    ax.xaxis.set_major_formatter(FormatStrFormatter("%.1f"))
    ax.yaxis.set_major_formatter(FormatStrFormatter("%.1f"))
    ax.tick_params(which="major", direction="out", length=3.6, width=0.8,
                   labelsize=fs, top=False, right=False)
    ax.tick_params(which="minor", direction="out", length=2, width=0.8,
                   top=False, right=False)
    ax.tick_params(axis="y", which="major", pad=1)
    ax.tick_params(axis="x", which="major", pad=3)
    for s in ax.spines.values():
        s.set_linewidth(0.8)
    ax.set_xlabel("Normalized particle size [nm]", fontsize=fs, labelpad=3)
    ax.set_ylabel("Normalized counts", fontsize=fs, labelpad=13)


for r in range(6):
    bottom = 1 - (row_top[r] + row_h) / H
    for c, (rows, color, name) in enumerate([(ag_rows, ag_color, "Ag-Line scans"),
                                             (au_rows, au_color, "Au-Line scans")]):
        ax = fig.add_axes([col_left[c] / W, bottom, col_w / W, row_h / H])
        for y in rows[r]:
            x = np.linspace(0, 1, len(y))
            ax.plot(x, y, color=color, lw=0.8)
        style_axes(ax)
        ax.text(0.008, 0.99, name, transform=ax.transAxes, ha="left", va="top",
                fontsize=fs)
    yc = 1 - (row_top[r] + row_h / 2 - 15) / H
    fig.text(12 / W, yc, gmf_labels[r], ha="left", va="center",
             fontsize=21, fontweight="bold", family=["Lato", "DejaVu Sans"])

fig.savefig("out.png", dpi=100)
